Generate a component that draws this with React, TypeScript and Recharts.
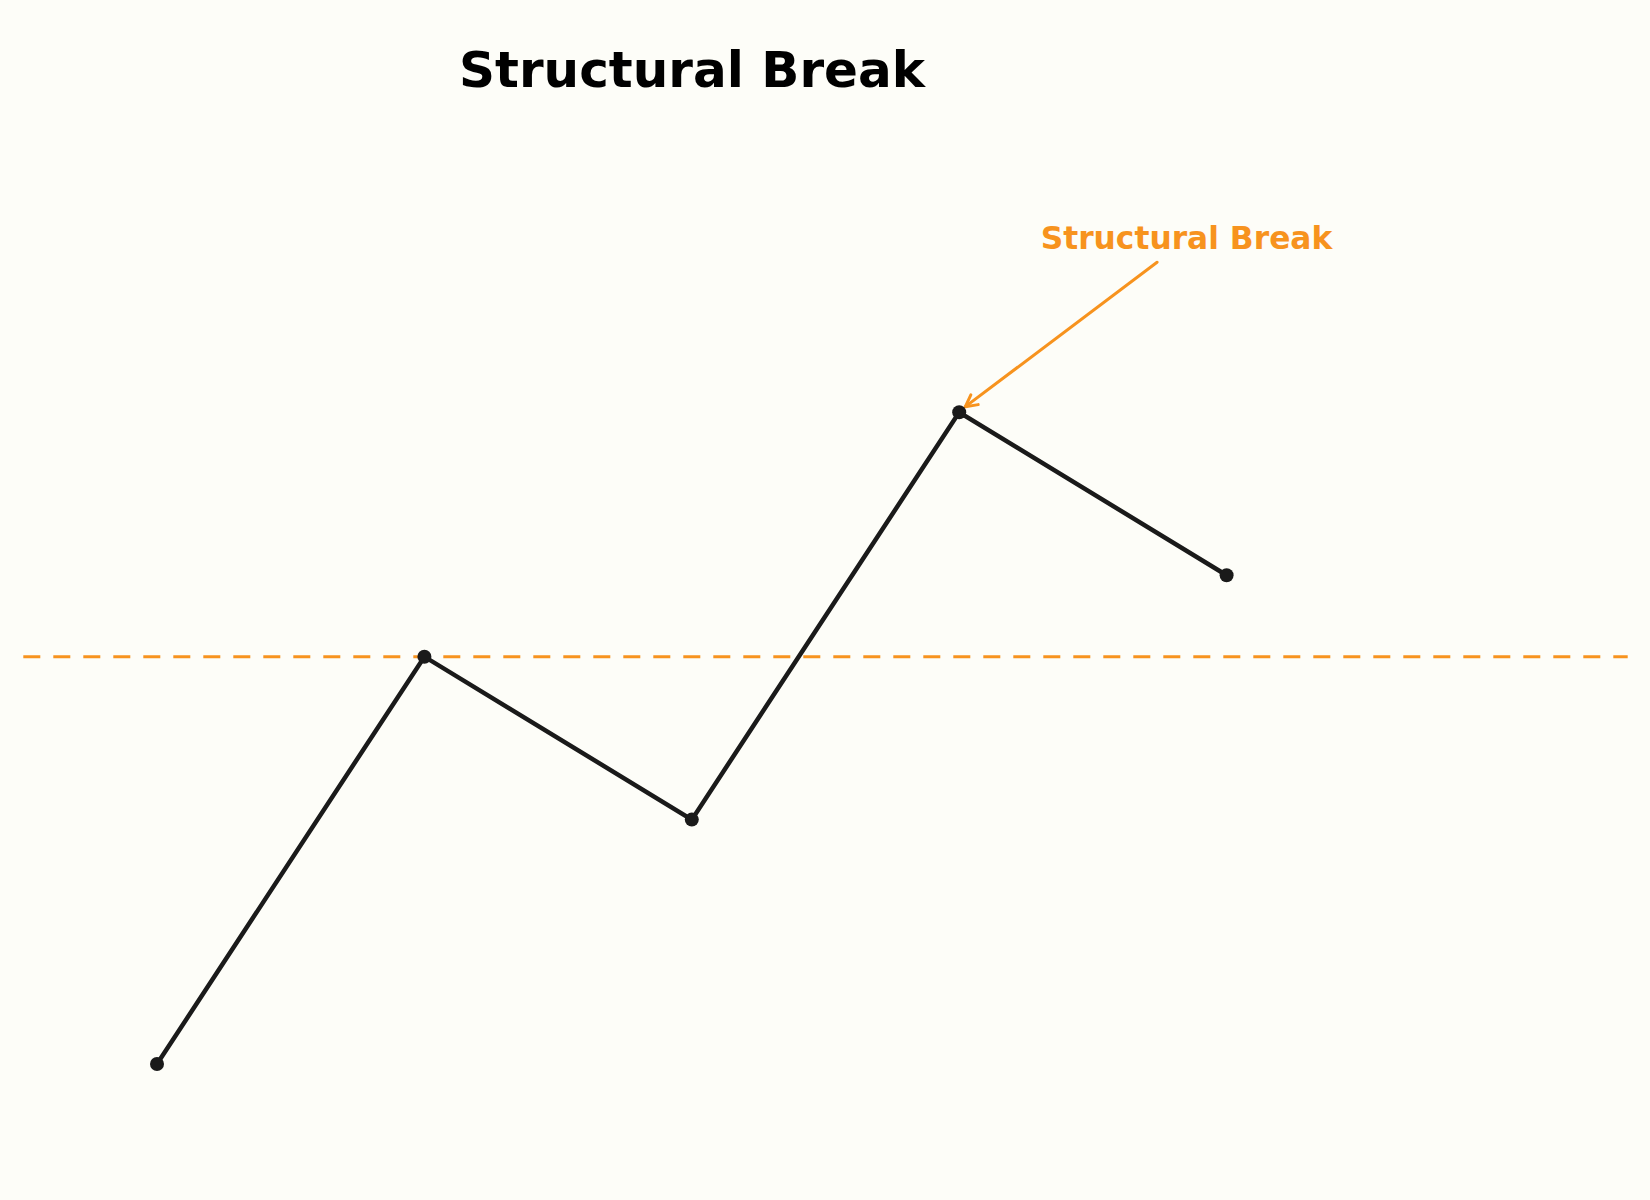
import React from "react";
import { LineChart, Line, XAxis, YAxis, ReferenceLine, ReferenceDot, Customized } from "recharts";

const periods = [0, 1, 2, 3, 4];
const values = [0, 5, 3, 8, 6];
const breakLevel = 5;
const titleText = "Structural Break";
const annotationText = "Structural Break";
const annotationTextPos = { x: 3.85, y: 10 };
const arrowTail = { x: 3.74, y: 9.842 };
const arrowTip = { x: 3.023, y: 8.069 };

const ORANGE = "#F7931E";
const DARK = "#1a1a1a";
const BG = "#FDFDF8";

const data = periods.map((p, i) => ({ t: p, v: values[i] }));

const ArrowShape = (props: any) => {
  const { x1, y1, x2, y2 } = props;
  if ([x1, y1, x2, y2].some((n) => typeof n !== "number" || isNaN(n))) return null;
  const dx = x1 - x2;
  const dy = y1 - y2;
  const len = Math.sqrt(dx * dx + dy * dy);
  const ux = dx / len;
  const uy = dy / len;
  const L = 13;
  const a = (28 * Math.PI) / 180;
  const rot = (ang: number) => ({
    x: ux * Math.cos(ang) - uy * Math.sin(ang),
    y: ux * Math.sin(ang) + uy * Math.cos(ang),
  });
  const r1 = rot(a);
  const r2 = rot(-a);
  return (
    <g>
      <line x1={x1} y1={y1} x2={x2} y2={y2} stroke={ORANGE} strokeWidth={3} strokeLinecap="round" />
      <polyline
        points={`${x2 + r1.x * L},${y2 + r1.y * L} ${x2},${y2} ${x2 + r2.x * L},${y2 + r2.y * L}`}
        fill="none"
        stroke={ORANGE}
        strokeWidth={3}
        strokeLinecap="round"
        strokeLinejoin="round"
      />
    </g>
  );
};

const AnnotationText = (props: any) => {
  const { cx, cy } = props;
  if (typeof cx !== "number" || typeof cy !== "number") return null;
  return (
    <text
      x={cx}
      y={cy}
      textAnchor="middle"
      fill={ORANGE}
      fontFamily="'DejaVu Sans', sans-serif"
      fontWeight="bold"
      fontSize={31.3}
    >
      {annotationText}
    </text>
  );
};

const Title = () => (
  <text
    x={692}
    y={87}
    textAnchor="middle"
    fill="#000"
    fontFamily="'DejaVu Sans', sans-serif"
    fontWeight="bold"
    fontSize={50}
  >
    {titleText}
  </text>
);

export default function App() {
  return (
    <div style={{ position: "absolute", left: 0, top: 0, width: 1650, height: 1200, background: BG }}>
      <LineChart
        width={1650}
        height={1200}
        data={data}
        margin={{ top: 379.7, right: 22.3, bottom: 103.4, left: 23.3 }}
      >
        <XAxis dataKey="t" type="number" domain={[-0.5, 5.5]} hide />
        <YAxis type="number" domain={[-0.4, 8.4]} hide />
        <ReferenceLine y={breakLevel} stroke={ORANGE} strokeWidth={3} strokeDasharray="17 13" />
        <Line
          type="linear"
          dataKey="v"
          stroke={DARK}
          strokeWidth={4.5}
          dot={{ r: 7, fill: DARK, stroke: "none" }}
          activeDot={false}
          isAnimationActive={false}
        />
        <ReferenceLine
          segment={[arrowTail, arrowTip]}
          ifOverflow="visible"
          shape={ArrowShape}
        />
        <ReferenceDot
          x={annotationTextPos.x}
          y={annotationTextPos.y}
          ifOverflow="visible"
          shape={AnnotationText}
        />
        <Customized component={Title} />
      </LineChart>
    </div>
  );
}
